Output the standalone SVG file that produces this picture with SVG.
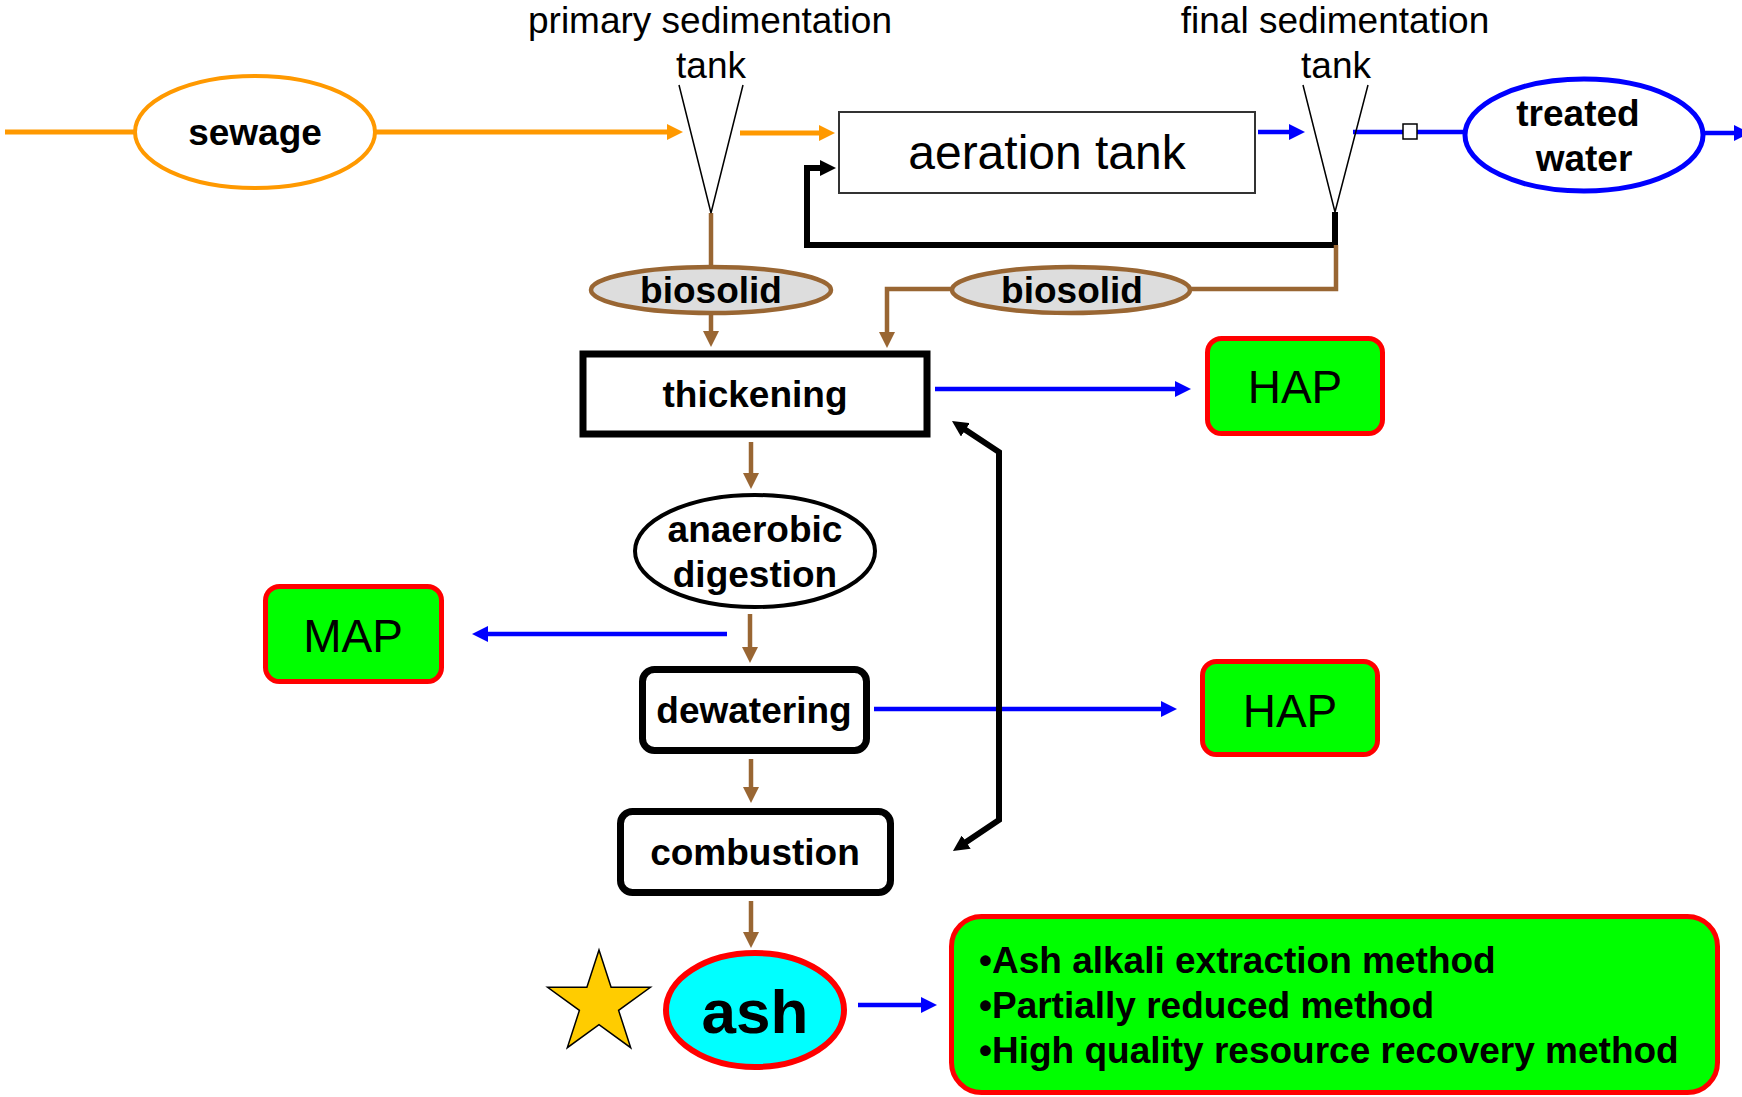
<svg xmlns="http://www.w3.org/2000/svg" width="1742" height="1097" viewBox="0 0 1742 1097">
  <style>
    text { font-family: "Liberation Sans", Arial, sans-serif; text-anchor: middle; fill: #000; }
    .b { font-weight: bold; font-size: 37px; }
    .lbl { font-size: 37px; }
    .big { font-size: 46px; }
    .list { font-weight: bold; font-size: 37px; text-anchor: start; }
    .orange { stroke: #ff9900; stroke-width: 5; fill: none; }
    .brown { stroke: #996633; stroke-width: 4.5; fill: none; }
    .blue { stroke: #0000ff; stroke-width: 4.5; fill: none; }
    .black { stroke: #000; stroke-width: 6; fill: none; }
    .tank { stroke: #000; stroke-width: 1.5; fill: none; }
    .prod { fill: #00ff00; stroke: #ff0000; stroke-width: 5; }
    .proc { fill: #fff; stroke: #000; stroke-width: 7; }
    .solid { fill: #dddddd; stroke: #996633; stroke-width: 4.5; }
  </style>
  <defs>
    <marker id="ah-orange" viewBox="0 0 16 16" markerWidth="16" markerHeight="16" markerUnits="userSpaceOnUse" refX="1" refY="8" orient="auto"><path d="M0,0 L16,8 L0,16 z" fill="#ff9900"/></marker>
    <marker id="ah-brown" viewBox="0 0 16 16" markerWidth="16" markerHeight="16" markerUnits="userSpaceOnUse" refX="1" refY="8" orient="auto"><path d="M0,0 L16,8 L0,16 z" fill="#996633"/></marker>
    <marker id="ah-blue" viewBox="0 0 16 16" markerWidth="16" markerHeight="16" markerUnits="userSpaceOnUse" refX="1" refY="8" orient="auto"><path d="M0,0 L16,8 L0,16 z" fill="#0000ff"/></marker>
    <marker id="ah-black" viewBox="0 0 16 16" markerWidth="16" markerHeight="16" markerUnits="userSpaceOnUse" refX="1" refY="8" orient="auto-start-reverse"><path d="M0,0 L16,8 L0,16 z" fill="#000"/></marker>
  </defs>

  <!-- connectors -->
  <g id="connectors">
    <path class="orange" d="M5,132 H134"/>
    <path class="orange" d="M376,132 H668" marker-end="url(#ah-orange)"/>
    <path class="orange" d="M740,133 H820" marker-end="url(#ah-orange)"/>
    <path class="blue" stroke-width="5" d="M1258,132 H1290" marker-end="url(#ah-blue)"/>
    <path class="blue" stroke-width="7" d="M1353,132 H1463"/>
    <path class="blue" stroke-width="5" d="M1705,133 H1735" marker-end="url(#ah-blue)"/>
    <!-- return sludge loop -->
    <path class="black" d="M1335,212 V245 H807 V168 H821" marker-end="url(#ah-black)"/>
    <!-- sludge lines -->
    <path class="brown" d="M711,213 V267"/>
    <path class="brown" d="M711,314 V332" marker-end="url(#ah-brown)"/>
    <path class="brown" stroke-width="5" d="M1336,245 V289 H1190"/>
    <path class="brown" d="M952,289 H887 V333" marker-end="url(#ah-brown)"/>
    <path class="brown" d="M751,442 V474" marker-end="url(#ah-brown)"/>
    <path class="brown" d="M750,614 V648" marker-end="url(#ah-brown)"/>
    <path class="brown" d="M751,759 V788" marker-end="url(#ah-brown)"/>
    <path class="brown" d="M751,901 V933" marker-end="url(#ah-brown)"/>
    <!-- phosphorus recovery outputs -->
    <path class="blue" d="M935,389 H1176" marker-end="url(#ah-blue)"/>
    <path class="blue" d="M727,634 H487" marker-end="url(#ah-blue)"/>
    <path class="blue" d="M874,709 H1162" marker-end="url(#ah-blue)"/>
    <path class="blue" stroke-width="5" d="M858,1005 H922" marker-end="url(#ah-blue)"/>
    <!-- combustion back to thickening -->
    <path class="black" stroke-width="5" d="M964.5,429.3 L999,452 V820 L965.4,842.6" marker-start="url(#ah-black)" marker-end="url(#ah-black)"/>
  </g>

  <g id="sewage">
    <ellipse cx="255" cy="132" rx="120" ry="56" fill="#fff" stroke="#ff9900" stroke-width="4"/>
    <text class="b" x="255" y="145">sewage</text>
  </g>

  <g id="primary-tank">
    <polyline class="tank" points="679,85 711,213 743,85"/>
    <text class="lbl" x="710" y="33">primary sedimentation</text>
    <text class="lbl" x="711" y="78">tank</text>
  </g>

  <g id="aeration-tank">
    <rect x="839" y="112" width="416" height="81" fill="#fff" stroke="#333" stroke-width="2"/>
    <text x="1047" y="169" font-size="48">aeration tank</text>
  </g>

  <g id="final-tank">
    <polyline class="tank" points="1303,85 1335,212 1368,85"/>
    <text class="lbl" x="1335" y="33">final sedimentation</text>
    <text class="lbl" x="1336" y="78">tank</text>
  </g>

  <g id="valve">
    <rect x="1403" y="124" width="14" height="15" fill="#fff" stroke="#000" stroke-width="1.5"/>
  </g>

  <g id="treated-water">
    <ellipse cx="1584" cy="135" rx="119" ry="56" fill="#fff" stroke="#0000ff" stroke-width="5"/>
    <text class="b" x="1578" y="126">treated</text>
    <text class="b" x="1584" y="171">water</text>
  </g>

  <g id="biosolid-primary">
    <ellipse class="solid" cx="711" cy="290" rx="120" ry="23"/>
    <text class="b" x="711" y="303">biosolid</text>
  </g>

  <g id="biosolid-final">
    <ellipse class="solid" cx="1071" cy="290" rx="119" ry="23"/>
    <text class="b" x="1072" y="303">biosolid</text>
  </g>

  <g id="thickening">
    <rect class="proc" x="583" y="354" width="344" height="80" stroke-width="7.5"/>
    <text class="b" x="755" y="407">thickening</text>
  </g>

  <g id="anaerobic-digestion">
    <ellipse cx="755" cy="551" rx="120" ry="56" fill="#fff" stroke="#000" stroke-width="4"/>
    <text class="b" x="755" y="542">anaerobic</text>
    <text class="b" x="755" y="587">digestion</text>
  </g>

  <g id="dewatering">
    <rect class="proc" x="642.5" y="669.5" width="224" height="81" rx="12"/>
    <text class="b" x="754" y="723">dewatering</text>
  </g>

  <g id="combustion">
    <rect class="proc" x="620.5" y="811.5" width="270" height="81" rx="12"/>
    <text class="b" x="755" y="865">combustion</text>
  </g>

  <g id="ash">
    <ellipse cx="755" cy="1010" rx="89" ry="57" fill="#00ffff" stroke="#ff0000" stroke-width="6"/>
    <text x="755" y="1033" font-size="62" font-weight="bold">ash</text>
  </g>

  <g id="star">
    <polygon points="599,950 611.1,987.3 650.4,987.3 618.6,1010.4 630.7,1047.7 599,1024.6 567.3,1047.7 579.4,1010.4 547.6,987.3 586.9,987.3" fill="#ffcc00" stroke="#000" stroke-width="1.5"/>
  </g>

  <g id="hap-thickening">
    <rect class="prod" x="1207.5" y="338.5" width="175" height="95" rx="14"/>
    <text class="big" x="1295" y="403">HAP</text>
  </g>

  <g id="map">
    <rect class="prod" x="265.5" y="586.5" width="176" height="95" rx="14"/>
    <text class="big" x="353" y="652">MAP</text>
  </g>

  <g id="hap-dewatering">
    <rect class="prod" x="1202.5" y="661.5" width="175" height="93" rx="14"/>
    <text class="big" x="1290" y="727">HAP</text>
  </g>

  <g id="ash-methods">
    <rect class="prod" x="951.5" y="916.5" width="766" height="176" rx="30" stroke-width="7"/>
    <text class="list" x="979" y="973">•Ash alkali extraction method</text>
    <text class="list" x="979" y="1018">•Partially reduced method</text>
    <text class="list" x="979" y="1063">•High quality resource recovery method</text>
  </g>
</svg>
